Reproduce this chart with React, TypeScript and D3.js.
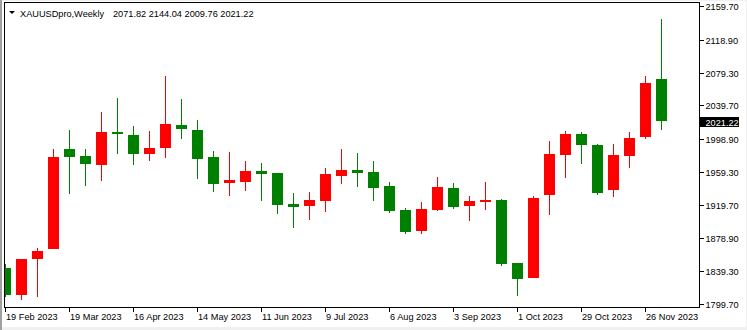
import React from "react";
import * as d3 from "d3";

const opens = [1843.2, 1810.9, 1854.1, 1866.5, 1987.0, 1978.5, 1968.0, 2007.5, 2003.9, 1981.3, 1988.5, 2015.9, 2009.9, 1977.3, 1946.2, 1947.4, 1960.4, 1958.0, 1920.5, 1918.5, 1924.5, 1954.6, 1961.6, 1959.2, 1942.3, 1913.3, 1888.2, 1913.6, 1939.8, 1918.5, 1923.3, 1925.3, 1849.2, 1831.5, 1931.7, 1980.0, 2005.1, 1991.8, 1937.8, 1978.8, 2001.8, 2071.82];
const highs = [1848.0, 1854.5, 1867.4, 1987.0, 2009.9, 1987.0, 2031.6, 2048.6, 2014.7, 2008.7, 2075.1, 2047.4, 2022.0, 1984.5, 1983.3, 1972.5, 1970.0, 1958.0, 1933.8, 1935.0, 1964.0, 1987.0, 1982.1, 1972.5, 1947.1, 1915.7, 1922.9, 1953.1, 1945.9, 1930.2, 1947.1, 1926.5, 1849.2, 1930.2, 1996.6, 2008.7, 2007.5, 1993.0, 1993.0, 2007.5, 2075.1, 2144.04];
const lows = [1808.5, 1804.9, 1808.5, 1866.5, 1932.9, 1942.6, 1948.7, 1981.3, 1968.0, 1972.8, 1976.4, 1999.4, 1951.1, 1935.4, 1930.5, 1936.6, 1924.5, 1908.8, 1891.9, 1901.5, 1911.2, 1945.0, 1941.4, 1924.5, 1910.0, 1884.6, 1884.6, 1912.4, 1914.8, 1900.3, 1913.6, 1846.0, 1809.7, 1831.5, 1907.6, 1952.3, 1969.2, 1931.7, 1929.3, 1964.4, 1999.4, 2009.76];
const closes = [1810.9, 1854.1, 1863.7, 1977.3, 1977.3, 1969.2, 2007.5, 2005.4, 1981.3, 1988.2, 2017.1, 2011.5, 1975.2, 1945.0, 1949.5, 1960.4, 1957.1, 1919.7, 1917.2, 1925.3, 1956.8, 1961.6, 1958.3, 1940.2, 1912.4, 1887.0, 1914.5, 1941.0, 1917.2, 1924.1, 1925.3, 1848.4, 1830.3, 1927.7, 1980.9, 2005.1, 1992.2, 1934.2, 1979.7, 2000.2, 2066.7, 2021.22];

const priceTicks = ["2159.70", "2118.90", "2079.30", "2039.70", "1998.90", "1959.30", "1919.70", "1878.90", "1839.30", "1799.70"];
const dateTickIndex = [0, 4, 8, 12, 16, 20, 24, 28, 32, 36, 40];
const dateTickLabels = ["19 Feb 2023", "19 Mar 2023", "16 Apr 2023", "14 May 2023", "11 Jun 2023", "9 Jul 2023", "6 Aug 2023", "3 Sep 2023", "1 Oct 2023", "29 Oct 2023", "26 Nov 2023"];
const symbolTitle = "XAUUSDpro,Weekly";

const W = 747;
const H = 330;
const FONT = "'Liberation Sans', Arial, sans-serif";
const FS = 9.2;

export default function App() {
  const n = opens.length;
  const x = d3.scaleLinear().domain([0, n - 1]).range([5, 661]);
  const y = d3.scaleLinear().domain([1799.7, 2159.7]).range([304, 6]);
  const last = n - 1;
  const lastClose = closes[last];
  const ly = Math.round(y(lastClose));
  const header = `${opens[last].toFixed(2)} ${highs[last].toFixed(2)} ${lows[last].toFixed(2)} ${lastClose.toFixed(2)}`;

  return (
    <div style={{ position: "fixed", left: 0, top: 0 }}>
      <svg width={W} height={H} style={{ display: "block" }} fontFamily={FONT}>
        <defs>
          <clipPath id="plotclip">
            <rect x={5} y={3} width={694} height={304} />
          </clipPath>
        </defs>
        <rect x={0} y={0} width={W} height={H} fill="#f0f0f0" />
        <rect x={0} y={0} width={2} height={H} fill="#a0a0a0" />
        <rect x={2} y={1} width={744} height={326} fill="#ffffff" />
        <g clipPath="url(#plotclip)">
          {opens.map((o, i) => {
            const c = closes[i];
            const cx = Math.round(x(i));
            const bull = c >= o;
            const col = bull ? "#ff0000" : "#008000";
            const top = Math.round(y(Math.max(o, c)));
            const bot = Math.round(y(Math.min(o, c)));
            const hy = Math.round(y(highs[i]));
            const lyw = Math.round(y(lows[i]));
            return (
              <g key={i}>
                <rect x={cx} y={hy} width={1} height={Math.max(1, lyw - hy)} fill={col} />
                <rect x={cx - 5} y={top} width={11} height={Math.max(1, bot - top)} fill={col} />
              </g>
            );
          })}
        </g>
        <rect x={4.5} y={2.5} width={695} height={305} fill="none" stroke="#000" strokeWidth={1} />
        {priceTicks.map((t) => {
          const ty = Math.round(y(+t)) + 0.5;
          return (
            <g key={t}>
              <line x1={700} x2={704} y1={ty} y2={ty} stroke="#000" />
              <text x={705.5} y={ty + 3.5} fontSize={FS} fill="#000">{t}</text>
            </g>
          );
        })}
        <rect x={699} y={ly - 4} width={40} height={10} fill="#000" />
        <text x={705.5} y={ly + 4.5} fontSize={FS} fill="#fff">{lastClose.toFixed(2)}</text>
        {dateTickIndex.map((idx, j) => {
          const tx = Math.round(x(idx)) + 0.5;
          return (
            <g key={idx}>
              <line x1={tx} x2={tx} y1={308} y2={312} stroke="#000" />
              <text x={tx + 0.5} y={320} fontSize={FS} fill="#000">{dateTickLabels[j]}</text>
            </g>
          );
        })}
        <path d="M9,11 L15,11 L12,14 Z" fill="#000" />
        <text x={20} y={16.5} fontSize={FS} fill="#000">{symbolTitle}</text>
        <text x={113} y={16.5} fontSize={FS} fill="#000">{header}</text>
      </svg>
    </div>
  );
}
